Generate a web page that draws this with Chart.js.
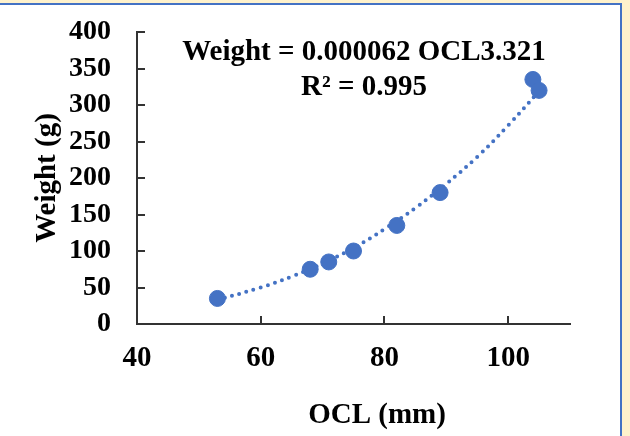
<!DOCTYPE html>
<html>
<head>
<meta charset="utf-8">
<script src="https://cdn.jsdelivr.net/npm/chart.js@4"></script>
<style>
  html, body { margin: 0; padding: 0; background: #FFF2CC; }
  body { width: 630px; height: 436px; position: relative; overflow: hidden; }
  .panel {
    position: absolute; left: 0; top: 3px; width: 620px; height: 433px;
    background: #fff; border-top: 2px solid #4472C4; border-right: 2px solid #4472C4;
  }
  canvas { position: absolute; left: 0; top: 0; }
</style>
</head>
<body>
<div class="panel"></div>
<canvas id="myChart" width="630" height="436"></canvas>
<script>
// measured points
const ocl = [53, 68, 71, 75, 82, 89, 104, 105];
const weight = [35, 75, 85, 100, 135, 180, 335, 320];

// power trendline
const trendOcl = [53, 60, 65, 70, 75, 80, 85, 90, 95, 100, 105];
const trendWeight = [33, 50, 65, 83, 104, 130, 159, 192, 229, 272, 319];

const xTicks = [40, 60, 80, 100];
const yTicks = [0, 50, 100, 150, 200, 250, 300, 350, 400];

const blue = "#4472C4";
const axisColor = "#333333";
const font = "'Liberation Serif', 'Times New Roman', serif";

// text + inside tick marks
const extras = {
  id: "extras",
  afterDraw(chart) {
    const c = chart.ctx;
    const area = chart.chartArea;
    const xs = chart.scales.x, ys = chart.scales.y;
    c.save();
    c.strokeStyle = axisColor;
    c.lineWidth = 2;
    yTicks.forEach((v) => {
      if (v === 0) return;
      let py = Math.round(ys.getPixelForValue(v));
      c.beginPath();
      c.moveTo(area.left, py);
      c.lineTo(area.left + 8, py);
      c.stroke();
    });
    xTicks.forEach((v) => {
      if (v === 40) return;
      let px = Math.round(xs.getPixelForValue(v));
      c.beginPath();
      c.moveTo(px, area.bottom);
      c.lineTo(px, area.bottom - 8);
      c.stroke();
    });

    c.fillStyle = "#000";
    c.textAlign = "center";
    c.textBaseline = "alphabetic";
    c.font = "bold 29px " + font;
    c.fillText("Weight = 0.000062 OCL3.321", 364, 60);
    c.fillText("R² = 0.995", 364, 95);

    c.textBaseline = "middle";
    c.fillText("OCL (mm)", 377, 416);
    c.translate(48, 178);
    c.rotate(-Math.PI / 2);
    c.fillText("Weight (g)", 0, 0);
    c.restore();
  }
};

const ctx = document.getElementById("myChart");
new Chart(ctx, {
  type: "scatter",
  data: {
    datasets: [
      {
        label: "Weight",
        data: ocl.map((x, i) => ({ x: x, y: weight[i] })),
        backgroundColor: blue,
        borderColor: blue,
        pointRadius: 8,
        order: 1
      },
      {
        label: "Power trend",
        data: trendOcl.map((x, i) => ({ x: x, y: trendWeight[i] })),
        showLine: true,
        pointRadius: 0,
        borderColor: blue,
        borderWidth: 4,
        borderDash: [0, 7.5],
        borderCapStyle: "round",
        tension: 0.4,
        order: 2
      }
    ]
  },
  plugins: [extras],
  options: {
    responsive: false,
    animation: false,
    layout: { autoPadding: false, padding: { left: 0, top: 32, right: 60, bottom: 0 } },
    plugins: { legend: { display: false }, tooltip: { enabled: false } },
    scales: {
      x: {
        type: "linear",
        min: 40,
        max: 110,
        afterFit: (s) => { s.height = 112; s.paddingLeft = 0; s.paddingRight = 0; },
        afterBuildTicks: (s) => { s.ticks = xTicks.map((v) => ({ value: v })); },
        border: { display: true, color: axisColor, width: 2 },
        grid: { display: false, drawTicks: false },
        ticks: { autoSkip: false, maxRotation: 0, padding: 17, color: "#000", font: { family: font, size: 29, weight: "bold" } }
      },
      y: {
        min: 0,
        max: 400,
        afterFit: (s) => { s.width = 137; s.paddingTop = 0; s.paddingBottom = 0; },
        afterBuildTicks: (s) => { s.ticks = yTicks.map((v) => ({ value: v })); },
        border: { display: true, color: axisColor, width: 2 },
        grid: { display: false, drawTicks: false },
        ticks: { autoSkip: false, padding: 26, color: "#000", font: { family: font, size: 28, weight: "bold" } }
      }
    }
  }
});
</script>
</body>
</html>
